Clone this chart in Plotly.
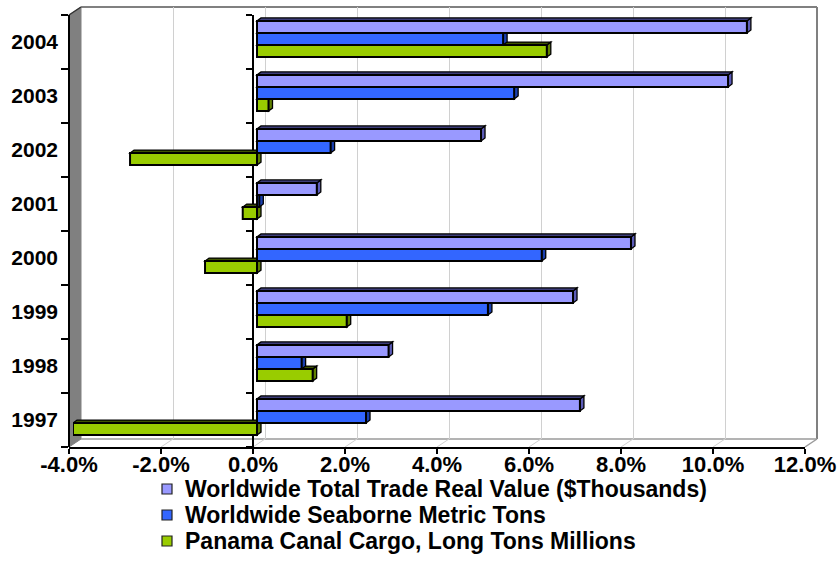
import plotly.graph_objects as go

W, H = 838, 583

# ---- data (annual growth, %) ----
years = ["1997", "1998", "1999", "2000", "2001", "2002", "2003", "2004"]
trade_value = [7.02, 2.86, 6.87, 8.13, 1.30, 4.87, 10.24, 10.65]
seaborne_tons = [2.37, 0.97, 5.02, 6.19, 0.05, 1.60, 5.59, 5.35]
canal_cargo = [-4.00, 1.21, 1.95, -1.13, -0.31, -2.76, 0.25, 6.30]
x_ticks = [-4, -2, 0, 2, 4, 6, 8, 10, 12]
x_tick_labels = [f"{t:.1f}%" for t in x_ticks]

series_names = [
    "Worldwide Total Trade Real Value ($Thousands)",
    "Worldwide Seaborne Metric Tons",
    "Panama Canal Cargo, Long Tons Millions",
]
series_values = [trade_value, seaborne_tons, canal_cargo]
face_colors = ["#9999FF", "#3366FF", "#99CC00"]
side_colors = ["#5C5CB8", "#1A40B0", "#5F8000"]
top_colors = ["#3D3D7A", "#14307F", "#3F5500"]

# ---- pseudo-3D frame geometry (pixels) ----
FL, FR, FT, FB = 69, 805, 15, 447      # front plane of the plot box
DX, DY = 12, -8                        # offset of the back wall
BX, BY = 4, -3                         # offset of the bar plane
SX, SY = 4, 3                          # visible bar depth
XR = [x_ticks[0], x_ticks[-1]]
YR = [-0.5, len(years) - 0.5]
GROUP = 0.67                           # share of a category used by the bar group
BW = GROUP / len(series_values)

# legend block
LEG_X, LEG_Y0, LEG_STEP, LEG_BOX = 167, 489, 26, 10

def xp(p):
    return p / W

def yp(p):
    return 1 - p / H

def front_x(v):
    return FL + (v - XR[0]) / (XR[1] - XR[0]) * (FR - FL)

font_base = dict(family="Liberation Sans, Arial, sans-serif", color="black", weight="bold")

fig = go.Figure()

# helper traces that register each axis pair
fig.add_trace(go.Scatter(x=trade_value, y=list(range(len(years))), xaxis="x", yaxis="y",
                         mode="markers", marker=dict(opacity=0), showlegend=False, hoverinfo="skip"))
fig.add_trace(go.Scatter(x=trade_value, y=years, xaxis="x2", yaxis="y2",
                         mode="markers", marker=dict(opacity=0), showlegend=False, hoverinfo="skip"))
fig.add_trace(go.Scatter(x=trade_value, y=years, xaxis="x2", yaxis="y4",
                         mode="markers", marker=dict(opacity=0), showlegend=False, hoverinfo="skip"))

# bars: drawn bottom-up inside each group (cargo, seaborne, trade value)
y_pos = list(range(len(years)))
draw_order = [2, 1, 0]
dx = SX / ((FR - FL) / (XR[1] - XR[0]))
dy = SY / ((FB - FT) / len(years))
for k, s in enumerate(draw_order):
    off = -GROUP / 2 + k * BW
    fig.add_trace(go.Bar(
        x=series_values[s], y=y_pos, orientation="h", xaxis="x3", yaxis="y3",
        width=BW, offset=off, name=series_names[s], showlegend=False,
        marker=dict(color=face_colors[s], line=dict(color="black", width=2)),
        hoverinfo="skip",
    ))
    for i, v in enumerate(series_values[s]):
        y0 = y_pos[i] + off
        y1 = y0 + BW
        xr, xl = max(v, 0), min(v, 0)
        side_path = f"M {xr},{y0} L {xr + dx},{y0 + dy} L {xr + dx},{y1 + dy} L {xr},{y1} Z"
        top_path = f"M {xl},{y1} L {xr},{y1} L {xr + dx},{y1 + dy} L {xl + dx},{y1 + dy} Z"
        for path, col in ((side_path, side_colors[s]), (top_path, top_colors[s])):
            try:
                fig.add_shape(type="path", path=path, xref="x3", yref="y3", layer="between",
                              fillcolor=col, line=dict(color="black", width=1.3))
            except ValueError:
                fig.add_shape(type="path", path=path, xref="x3", yref="y3", layer="below",
                              fillcolor=col, line=dict(color="black", width=1.3))

# ---- walls and floor ----
def seg(x0, y0, x1, y1, color, width):
    fig.add_shape(type="line", xref="paper", yref="paper", layer="below",
                  x0=xp(x0), y0=yp(y0), x1=xp(x1), y1=yp(y1),
                  line=dict(color=color, width=width))

wall = (f"M {xp(FL)},{yp(FT)} L {xp(FL + DX)},{yp(FT + DY)} "
        f"L {xp(FL + DX)},{yp(FB + DY)} L {xp(FL)},{yp(FB)} Z")
fig.add_shape(type="path", path=wall, xref="paper", yref="paper", layer="below",
              fillcolor="#808080", line=dict(color="#808080", width=1))
seg(FL + DX, FT + DY, FR + DX, FT + DY, "#808080", 2)       # back wall top
seg(FR + DX, FT + DY, FR + DX, FB + DY, "#808080", 2)       # back wall right
seg(FL + DX, FB + DY, FR + DX, FB + DY, "#9a9a9a", 1.5)     # floor back edge
for t in x_ticks[1:-1]:
    fx = front_x(t)
    seg(fx, FB, fx + DX, FB + DY, "#d0d0d0", 1)
seg(FR, FB, FR + DX, FB + DY, "#9a9a9a", 1.5)
seg(FL, FT, FL + DX, FT + DY, "#333333", 1.5)

# ---- legend block: swatches and labels ----
for r, s in enumerate(range(len(series_names))):
    cy = LEG_Y0 + r * LEG_STEP
    fig.add_shape(type="rect", xref="paper", yref="paper", layer="above",
                  x0=xp(LEG_X - LEG_BOX / 2), x1=xp(LEG_X + LEG_BOX / 2),
                  y0=yp(cy + LEG_BOX / 2), y1=yp(cy - LEG_BOX / 2),
                  fillcolor=face_colors[s], line=dict(color="#222222", width=1.2))
    fig.add_annotation(text=series_names[s], xref="paper", yref="paper",
                       x=xp(LEG_X + 16), y=yp(cy), xanchor="left", yanchor="middle",
                       showarrow=False, font=dict(**font_base, size=23))

layout_kw = dict(
    width=W, height=H, margin=dict(l=0, r=0, t=0, b=0, autoexpand=False),
    paper_bgcolor="white", plot_bgcolor="rgba(0,0,0,0)",
    barmode="overlay", hovermode=False, showlegend=False,
    font=dict(**font_base, size=20),
    # back wall with gridlines
    xaxis=dict(domain=[xp(FL + DX), xp(FR + DX)], range=XR, tickvals=x_ticks[1:-1],
               showgrid=True, gridcolor="#d0d0d0", gridwidth=1.2, showticklabels=False,
               ticks="", zeroline=False, showline=False, anchor="y", fixedrange=True,
               automargin=False),
    yaxis=dict(domain=[yp(FB + DY), yp(FT + DY)], range=YR, visible=False, anchor="x",
               fixedrange=True, automargin=False),
    # front value axis and the category axis crossing at 0
    xaxis2=dict(domain=[xp(FL), xp(FR)], range=XR, tickvals=x_ticks, ticktext=x_tick_labels,
                ticks="outside", ticklen=5, tickwidth=1.5, tickcolor="black",
                showline=True, linecolor="black", linewidth=1.5, showgrid=False,
                zeroline=False, anchor="y2", tickfont=dict(**font_base, size=22),
                fixedrange=True, automargin=False),
    yaxis2=dict(domain=[yp(FB), yp(FT)], type="category", categoryorder="array",
                categoryarray=years, range=YR, tickson="boundaries", ticks="outside",
                ticklen=6, tickwidth=1.5, tickcolor="black", showline=True,
                linecolor="black", linewidth=1.5, showticklabels=False, showgrid=False,
                anchor="free", position=xp(front_x(0)), fixedrange=True, automargin=False),
    yaxis4=dict(overlaying="y2", anchor="free", position=xp(FL), side="left",
                type="category", categoryorder="array", categoryarray=years, range=YR,
                tickson="boundaries", ticks="outside", ticklen=7, tickwidth=1.5,
                tickcolor="black", showline=True, linecolor="black", linewidth=1.5,
                showgrid=False, tickfont=dict(**font_base, size=21), fixedrange=True,
                automargin=False),
    # bar plane
    xaxis3=dict(domain=[xp(FL + BX), xp(FR + BX)], range=XR, visible=False, anchor="y3",
                fixedrange=True, automargin=False),
    yaxis3=dict(domain=[yp(FB + BY), yp(FT + BY)], range=YR, visible=False, anchor="x3",
                fixedrange=True, automargin=False),
)
fig.update_layout(**layout_kw)
for key, val in (("xaxis2_ticklabelstandoff", -8), ("yaxis4_ticklabelstandoff", 6)):
    try:
        fig.update_layout(**{key: val})
    except ValueError:
        pass

fig.write_html("out.html")
